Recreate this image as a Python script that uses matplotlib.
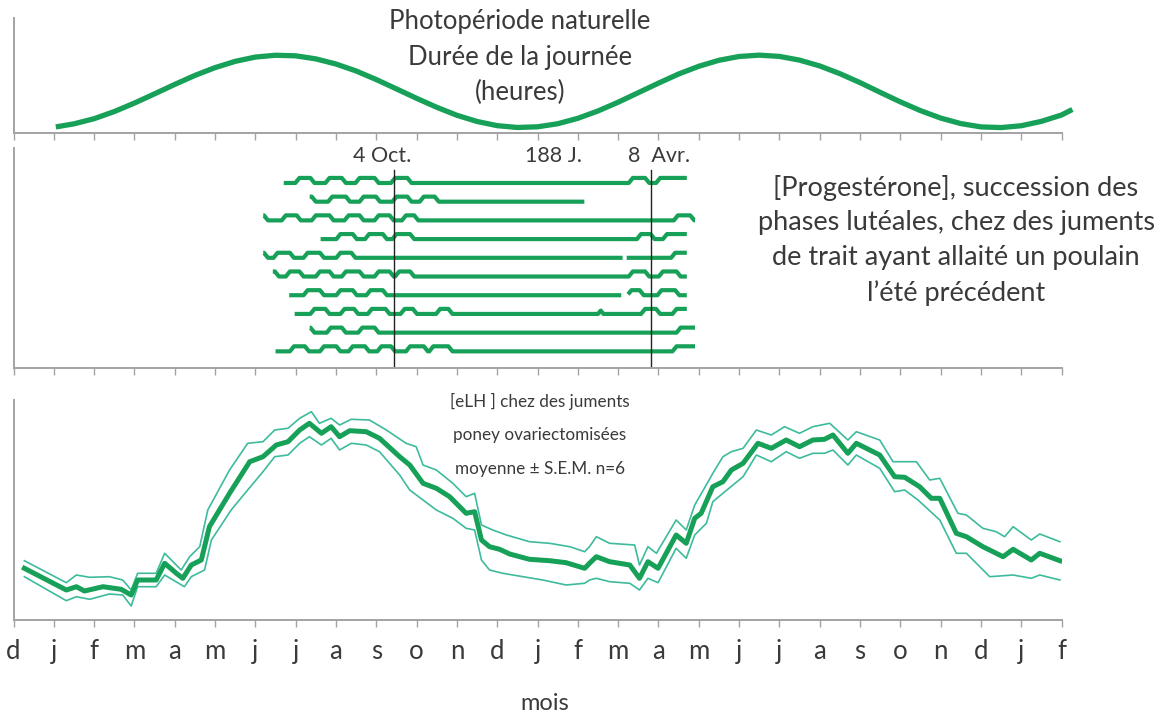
import numpy as np
import matplotlib
matplotlib.use('Agg')
import matplotlib.pyplot as plt

plt.rcParams['font.family'] = ['Lato', 'DejaVu Sans']

# ---------------- données ----------------
mois = ['d', 'j', 'f', 'm', 'a', 'm', 'j', 'j', 'a', 's', 'o', 'n'] * 2 + ['d', 'j', 'f']

# photopériode (durée du jour, heures) ; x en mois (0 = d)
photo_x = [1.05, 1.5, 2, 2.5, 3, 3.5, 4, 4.5, 5, 5.5, 6, 6.5, 7, 7.5, 8, 8.5, 9, 9.5, 10,
           10.5, 11, 11.5, 12, 12.5, 13, 13.5, 14, 14.5, 15, 15.5, 16, 16.5, 17, 17.5, 18,
           18.5, 19, 19.5, 20, 20.5, 21, 21.5, 22, 22.5, 23, 23.5, 24, 24.5, 25, 25.5, 26, 26.27]
photo_h = [8.37, 8.69, 9.23, 9.98, 10.87, 11.84, 12.83, 13.77, 14.59, 15.25, 15.70, 15.89,
           15.83, 15.51, 14.97, 14.24, 13.34, 12.36, 11.37, 10.43, 9.59, 8.94, 8.50, 8.31,
           8.38, 8.70, 9.27, 10.04, 10.96, 11.96, 12.96, 13.92, 14.73, 15.36, 15.76, 15.90,
           15.77, 15.38, 14.77, 13.96, 13.02, 12.00, 11.00, 10.08, 9.30, 8.72, 8.37, 8.30,
           8.49, 8.95, 9.62, 10.2]

# progestérone : jours relatifs au 4 oct.
oct4_pos = 9.45        # position du 4 oct. sur l'axe des mois
jours_par_mois = 29.5
duree_j = 188
prog_debut = [-81, -62, -96, -54, -96, -89, -77, -73, -62, -87]
prog_fin = [214, 139, 220, 214, 214, 214, 214, 214, 220, 220]
prog_hautes = [
    [(-71, -60), (-49, -37), (-27, -13), (-1, 11), (173, 185), (193, 230)],
    [(-70, -59), (-47, -34), (-24, -12), (0, 11), (20, 31)],
    [(-100, -94), (-81, -70), (-59, -46), (-35, -24), (-13, -2), (7, 16), (206, 218)],
    [(-41, -29), (-20, -7), (0, 13), (179, 189), (198, 230)],
    [(-100, -94), (-87, -75), (-65, -53), (-41, -30), (204, 230)],
    [(-95, -86), (-78, -68), (-56, -46), (-37, -24), (-13, -2), (2, 13), (173, 185), (195, 208)],
    [(-65, -53), (-41, -29), (-19, -7), (172, 181), (194, 207)],
    [(-60, -49), (-38, -28), (-18, -5), (6, 15), (32, 41), (150.5, 151.5), (182, 193), (205, 230)],
    [(-65, -60), (-48, -37), (-25, -13), (208, 240)],
    [(-75, -64), (-53, -41), (-32, -20), (-11, -1), (10, 23), (27, 41), (205, 240)],
]
prog_trous = [[], [], [], [], [(167, 170)], [], [(166, 171)], [], [], []]

# eLH (unités arbitraires)
lh_x = [0.27, 1.31, 1.56, 1.76, 2.22, 2.67, 2.92, 3.08, 3.54, 3.75, 4.04, 4.20, 4.41, 4.66,
        4.86, 5.36, 5.86, 6.19, 6.52, 6.81, 7.10, 7.34, 7.64, 7.88, 8.09, 8.34, 8.75, 9.08,
        9.58, 9.83, 10.16, 10.49, 10.82, 11.23, 11.44, 11.61, 11.81, 12.06, 12.31, 12.80,
        13.30, 13.71, 14.17, 14.29, 14.46, 14.79, 15.29, 15.53, 15.74, 15.99, 16.44, 16.69,
        16.90, 17.06, 17.35, 17.60, 17.81, 18.10, 18.47, 18.80, 19.17, 19.50, 19.83, 20.12,
        20.33, 20.70, 20.91, 21.49, 21.86, 22.11, 22.48, 22.77, 22.98, 23.39, 23.64, 24.05,
        24.55, 24.80, 25.25, 25.46, 25.96]
lh_moy = [5.17, 3.0, 3.33, 2.9, 3.33, 3.07, 2.5, 4.0, 4.0, 5.67, 4.67, 4.17, 5.5, 6.0,
          9.33, 12.67, 15.83, 16.33, 17.5, 17.83, 19.0, 19.67, 18.67, 19.33, 18.33, 18.93,
          18.83, 18.17, 16.33, 15.5, 13.67, 13.17, 12.33, 10.67, 10.83, 8.0, 7.33, 7.07, 6.6,
          6.07, 5.93, 5.73, 5.17, 5.67, 6.33, 5.83, 5.5, 4.17, 5.83, 5.17, 8.5, 7.67, 10.17,
          10.67, 13.33, 13.83, 15.0, 15.67, 17.67, 17.17, 18.0, 17.33, 18.0, 18.07, 18.5,
          16.67, 17.67, 16.5, 14.33, 14.27, 13.33, 12.17, 12.17, 8.67, 8.33, 7.33, 6.33,
          7.07, 6.0, 6.67, 5.93]

sem_hi_x = [0.27, 1.31, 1.56, 1.89, 2.38, 2.71, 2.92, 3.08, 3.54, 3.75, 4.16, 4.37, 4.62,
            4.82, 5.36, 5.81, 6.19, 6.48, 6.81, 7.10, 7.39, 7.59, 7.88, 8.09, 8.38, 8.83,
            9.25, 9.74, 9.99, 10.16, 10.49, 10.90, 11.23, 11.44, 11.61, 11.89, 12.23, 12.80,
            13.30, 13.80, 14.17, 14.29, 14.46, 14.79, 15.41, 15.53, 15.74, 15.95, 16.44,
            16.69, 16.90, 17.02, 17.35, 17.60, 17.81, 18.10, 18.43, 18.80, 19.13, 19.50,
            19.83, 20.25, 20.70, 20.91, 21.49, 21.82, 22.40, 22.73, 22.98, 23.43, 23.64,
            24.05, 24.38, 24.59, 24.80, 25.25, 25.46, 25.96]
sem_hi = [5.93, 3.73, 4.5, 4.27, 4.33, 4.0, 3.0, 4.67, 4.67, 6.67, 5.0, 6.33, 7.33, 11.0,
          15.0, 17.67, 17.83, 19.0, 19.17, 20.17, 20.83, 19.67, 20.17, 19.5, 20.07, 20.0,
          19.0, 17.67, 17.33, 15.5, 15.0, 13.67, 12.33, 12.67, 9.5, 9.0, 8.5, 7.83, 7.67,
          7.33, 6.83, 7.33, 8.33, 7.67, 7.5, 5.5, 7.33, 6.67, 10.0, 9.0, 11.5, 12.33, 14.67,
          16.33, 16.83, 17.17, 19.0, 18.5, 19.33, 18.67, 19.33, 19.67, 18.0, 18.83, 18.0,
          15.83, 15.83, 14.0, 14.17, 10.67, 10.5, 9.17, 8.83, 8.33, 9.33, 8.0, 8.6, 7.83]

sem_lo_x = [0.27, 1.31, 1.56, 1.89, 2.38, 2.71, 2.92, 3.08, 3.54, 3.75, 4.24, 4.41, 4.74,
            4.91, 5.40, 5.81, 6.19, 6.48, 6.81, 7.10, 7.34, 7.64, 7.88, 8.09, 8.38, 8.75,
            9.08, 9.58, 9.83, 10.16, 10.49, 10.90, 11.23, 11.44, 11.61, 11.81, 12.14, 12.64,
            13.13, 13.71, 14.17, 14.29, 14.46, 14.79, 15.29, 15.53, 15.74, 15.99, 16.44,
            16.69, 16.90, 17.19, 17.35, 17.60, 17.85, 18.10, 18.43, 18.80, 19.17, 19.50,
            19.83, 20.12, 20.33, 20.70, 20.91, 21.49, 21.86, 22.11, 22.44, 22.98, 23.39,
            23.64, 24.22, 24.80, 25.25, 25.46, 25.96]
sem_lo = [4.33, 1.93, 2.33, 2.07, 2.6, 2.5, 1.4, 3.33, 3.33, 4.5, 3.33, 4.33, 5.0, 8.0,
          11.0, 13.0, 14.83, 16.33, 16.5, 17.67, 18.33, 17.5, 18.17, 17.0, 17.67, 17.5,
          16.83, 14.5, 13.0, 12.0, 11.0, 10.17, 9.17, 9.0, 6.0, 5.0, 4.67, 4.33, 4.0, 3.5,
          3.67, 4.0, 4.17, 3.83, 3.67, 3.0, 4.17, 3.73, 7.17, 6.17, 8.5, 9.67, 11.83, 12.67,
          13.5, 14.33, 16.5, 15.83, 16.83, 16.17, 16.67, 16.67, 17.0, 15.5, 16.5, 15.17,
          12.83, 13.0, 12.0, 10.0, 6.67, 6.67, 4.33, 4.5, 4.17, 4.5, 4.0]

# ---------------- style ----------------
vert = '#17a058'
vert_clair = '#3dbb9c'
gris = '#a3a3a3'
texte = '#3a3a3a'
W, H = 1164, 715


def fx(px):
    return px / W


def fy(py):
    return 1 - py / H


def prepare(ax, labels=False):
    for s in ['top', 'right']:
        ax.spines[s].set_visible(False)
    for s in ['left', 'bottom']:
        ax.spines[s].set_color(gris)
        ax.spines[s].set_linewidth(1.4)
    ax.set_xlim(0, 26)
    ax.set_xticks(range(27))
    ax.set_yticks([])
    ax.tick_params(axis='x', direction='out', length=5, width=1, color=gris, pad=9)
    if labels:
        ax.set_xticklabels(mois, fontsize=18.5, color=texte)
    else:
        ax.set_xticklabels([])


fig = plt.figure(figsize=(W / 100, H / 100), dpi=100)
gauche = fx(13.5)
largeur = 1048 / W

# --- photopériode ---
ax1 = fig.add_axes([gauche, fy(133), largeur, 115 / H])
prepare(ax1)
ax1.plot(photo_x, photo_h, color=vert, lw=3.8, solid_capstyle='butt', clip_on=False)
ax1.set_ylim(7.73, 19.8)
for i, t in enumerate(['Photopériode naturelle', 'Durée de la journée', '(heures)']):
    fig.text(fx(520), fy(22 + 35 * i), t, ha='center', va='center', fontsize=18.5, color=texte)

# --- progestérone ---
ax2 = fig.add_axes([gauche, fy(368), largeur, 220 / H])
prepare(ax2)
ax2.set_ylim(9.89, -1.87)
amp = 0.27
rampe = 1.5
for i in range(len(prog_debut)):
    t = np.arange(prog_debut[i], prog_fin[i] + 0.01, 0.25)
    niveau = np.zeros_like(t)
    for (a, b) in prog_hautes[i]:
        trap = np.minimum((t - (a - rampe)) / (2 * rampe), ((b + rampe) - t) / (2 * rampe))
        niveau = np.maximum(niveau, np.clip(trap, 0, 1))
    y = i - amp * niveau
    for (a, b) in prog_trous[i]:
        y[(t > a) & (t < b)] = np.nan
    ax2.plot(oct4_pos + t / jours_par_mois, y, color=vert, lw=3.0, solid_capstyle='butt')
for j in [0, duree_j]:
    ax2.plot([oct4_pos + j / jours_par_mois] * 2, [-0.7, 9.89], color='#222222', lw=1.0)
ax2.text(oct4_pos - 0.3, -1.45, '4 Oct.', ha='center', va='center', fontsize=15.5, color=texte)
ax2.text(oct4_pos + duree_j / 2 / jours_par_mois + 0.75, -1.45, '188 J.', ha='center',
         va='center', fontsize=15.5, color=texte)
ax2.text(oct4_pos + duree_j / jours_par_mois + 0.2, -1.45, '8  Avr.', ha='center', va='center',
         fontsize=15.5, color=texte)
for i, t in enumerate(['[Progestérone], succession des', 'phases lutéales, chez des juments',
                       'de trait ayant allaité un poulain', 'l\u2019été précédent']):
    fig.text(fx(956), fy(188 + 35 * i), t, ha='center', va='center', fontsize=19.5, color=texte)

# --- eLH ---
ax3 = fig.add_axes([gauche, fy(620), largeur, 220 / H])
prepare(ax3, labels=True)
ax3.set_ylim(0, 22)
ax3.plot(sem_hi_x, sem_hi, color=vert_clair, lw=1.2)
ax3.plot(sem_lo_x, sem_lo, color=vert_clair, lw=1.2)
ax3.plot(lh_x, lh_moy, color=vert, lw=3.6)
for i, t in enumerate(['[eLH ] chez des juments', 'poney ovariectomisées',
                       'moyenne \u00b1 S.E.M. n=6']):
    fig.text(fx(540), fy(401 + 34 * i), t, ha='center', va='center', fontsize=12.3, color=texte)

fig.text(fx(545), fy(703), 'mois', ha='center', va='center', fontsize=17, color=texte)

fig.savefig('out.png', dpi=100)
